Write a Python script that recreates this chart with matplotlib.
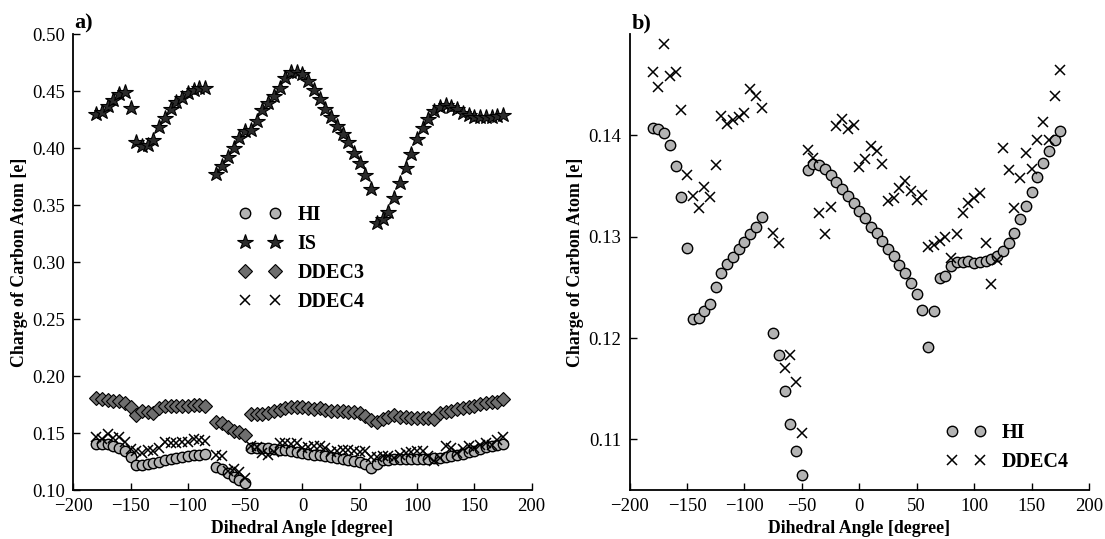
import matplotlib
matplotlib.use("Agg")
import matplotlib.pyplot as plt
from matplotlib.ticker import FormatStrFormatter

plt.rcParams['font.family'] = ['Liberation Serif', 'DejaVu Serif']
plt.rcParams['mathtext.fontset'] = 'stix'

# dihedral angle scan (degree); no point at -80
angle = [-180, -175, -170, -165, -160, -155, -150, -145, -140, -135,
         -130, -125, -120, -115, -110, -105, -100, -95, -90, -85,
         -75, -70, -65, -60, -55, -50,
         -45, -40, -35, -30, -25, -20, -15, -10, -5, 0,
         5, 10, 15, 20, 25, 30, 35, 40, 45, 50,
         55, 60, 65, 70, 75, 80, 85, 90, 95, 100,
         105, 110, 115, 120, 125, 130, 135, 140, 145, 150,
         155, 160, 165, 170, 175]

hi = [0.1407, 0.1406, 0.1402, 0.1390, 0.1370, 0.1339, 0.1289, 0.1219, 0.1220, 0.1227,
      0.1234, 0.1250, 0.1264, 0.1273, 0.1280, 0.1288, 0.1295, 0.1303, 0.1310, 0.1319,
      0.1205, 0.1183, 0.1148, 0.1115, 0.1088, 0.1065,
      0.1366, 0.1372, 0.1371, 0.1367, 0.1361, 0.1354, 0.1347, 0.1340, 0.1333, 0.1325,
      0.1318, 0.1310, 0.1304, 0.1296, 0.1288, 0.1281, 0.1272, 0.1264, 0.1254, 0.1243,
      0.1228, 0.1191, 0.1227, 0.1259, 0.1261, 0.1271, 0.1275, 0.1275, 0.1276, 0.1274,
      0.1275, 0.1276, 0.1278, 0.1281, 0.1286, 0.1294, 0.1304, 0.1317, 0.1330, 0.1344,
      0.1359, 0.1373, 0.1385, 0.1395, 0.1404]

is_q = [0.4298, 0.4313, 0.4366, 0.4421, 0.4474, 0.4491, 0.4354, 0.4053, 0.4018, 0.4026,
        0.4070, 0.4181, 0.4263, 0.4339, 0.4404, 0.4441, 0.4480, 0.4509, 0.4523, 0.4523,
        0.3769, 0.3839, 0.3918, 0.4003, 0.4085, 0.4152,
        0.4158, 0.4240, 0.4333, 0.4398, 0.4459, 0.4523, 0.4611, 0.4670, 0.4670, 0.4646,
        0.4588, 0.4509, 0.4430, 0.4345, 0.4272, 0.4193, 0.4120, 0.4053, 0.3959, 0.3871,
        0.3760, 0.3643, 0.3345, 0.3380, 0.3441, 0.3559, 0.3690, 0.3821, 0.3947, 0.4079,
        0.4172, 0.4257, 0.4327, 0.4357, 0.4374, 0.4357, 0.4339, 0.4310, 0.4292, 0.4275,
        0.4275, 0.4269, 0.4275, 0.4283, 0.4289]

ddec3 = [0.1805, 0.1800, 0.1792, 0.1785, 0.1777, 0.1762, 0.1730, 0.1660, 0.1690, 0.1685,
         0.1672, 0.1722, 0.1740, 0.1738, 0.1735, 0.1738, 0.1740, 0.1748, 0.1745, 0.1735,
         0.1600, 0.1590, 0.1550, 0.1520, 0.1505, 0.1480,
         0.1665, 0.1665, 0.1665, 0.1675, 0.1690, 0.1705, 0.1715, 0.1725, 0.1730, 0.1730,
         0.1722, 0.1712, 0.1715, 0.1705, 0.1695, 0.1690, 0.1696, 0.1688, 0.1688, 0.1673,
         0.1649, 0.1614, 0.1600, 0.1620, 0.1643, 0.1658, 0.1643, 0.1643, 0.1635, 0.1635,
         0.1635, 0.1635, 0.1620, 0.1673, 0.1687, 0.1696, 0.1708, 0.1716, 0.1731, 0.1737,
         0.1751, 0.1760, 0.1769, 0.1775, 0.1795]

ddec4 = [0.1463, 0.1448, 0.1490, 0.1459, 0.1463, 0.1425, 0.1361, 0.1340, 0.1328, 0.1349,
         0.1339, 0.1371, 0.1419, 0.1411, 0.1415, 0.1418, 0.1422, 0.1446, 0.1439, 0.1427,
         0.1304, 0.1294, 0.1170, 0.1183, 0.1157, 0.1106,
         0.1386, 0.1378, 0.1323, 0.1303, 0.1329, 0.1409, 0.1416, 0.1406, 0.1410, 0.1369,
         0.1377, 0.1389, 0.1385, 0.1372, 0.1335, 0.1338, 0.1348, 0.1355, 0.1345, 0.1336,
         0.1341, 0.1290, 0.1292, 0.1296, 0.1300, 0.1279, 0.1303, 0.1323, 0.1333, 0.1338,
         0.1343, 0.1294, 0.1253, 0.1277, 0.1388, 0.1366, 0.1328, 0.1358, 0.1383, 0.1367,
         0.1395, 0.1413, 0.1395, 0.1439, 0.1464]

x_ticks = [-200, -150, -100, -50, 0, 50, 100, 150, 200]
left_yticks = [0.10, 0.15, 0.20, 0.25, 0.30, 0.35, 0.40, 0.45, 0.50]
right_yticks = [0.11, 0.12, 0.13, 0.14]

# marker styles per method
style_hi = dict(ls='none', marker='o', ms=7.5, mfc='#b3b3b3', mec='black', mew=1.0)
style_is = dict(ls='none', marker='*', ms=11.5, mfc='#2b2b2b', mec='black', mew=0.8)
style_d3 = dict(ls='none', marker='D', ms=7, mfc='#6e6e6e', mec='black', mew=0.8)
style_d4 = dict(ls='none', marker='x', ms=7, mec='black', mew=1.1)

label_font = dict(fontsize=12.8, fontweight='bold')
legend_font = dict(size=14.5, weight='bold')


def style_axes(ax, yticks):
    for side in ['top', 'right']:
        ax.spines[side].set_visible(False)
    for side in ['left', 'bottom']:
        ax.spines[side].set_linewidth(1.3)
    ax.tick_params(direction='in', length=5, width=1.0, labelsize=13.5)
    ax.tick_params(axis='x', pad=6)
    ax.tick_params(axis='y', pad=6)
    ax.set_xlim(-200, 200)
    ax.set_xticks(x_ticks)
    ax.set_yticks(yticks)
    ax.yaxis.set_major_formatter(FormatStrFormatter('%.2f'))
    ax.set_xlabel('Dihedral Angle [degree]', labelpad=3, **label_font)
    ax.set_ylabel('Charge of Carbon Atom [e]', labelpad=3, **label_font)


fig = plt.figure(figsize=(11.05, 5.39), dpi=100)
ax1 = fig.add_axes([0.0663, 0.0909, 0.4148, 0.846])
ax2 = fig.add_axes([0.5698, 0.0909, 0.4157, 0.846])

# a) all four charge schemes
ax1.plot(angle, hi, label='HI', **style_hi)
ax1.plot(angle, is_q, label='IS', **style_is)
ax1.plot(angle, ddec3, label='DDEC3', **style_d3)
ax1.plot(angle, ddec4, label='DDEC4', **style_d4)
ax1.set_ylim(0.10, 0.50)
style_axes(ax1, left_yticks)
ax1.legend(loc='upper left', bbox_to_anchor=(0.362, 0.625), frameon=False,
           numpoints=2, prop=legend_font, handlelength=2.1, handletextpad=0.8,
           labelspacing=0.45, borderpad=0, borderaxespad=0)

# b) HI vs DDEC4 close-up
ax2.plot(angle, hi, label='HI', **style_hi)
ax2.plot(angle, ddec4, label='DDEC4', **style_d4)
ax2.set_ylim(0.105, 0.150)
style_axes(ax2, right_yticks)
ax2.legend(loc='upper left', bbox_to_anchor=(0.689, 0.146), frameon=False,
           numpoints=2, prop=legend_font, handlelength=2.0, handletextpad=0.75,
           labelspacing=0.45, borderpad=0, borderaxespad=0)

fig.text(74 / 1105, 1 - 28 / 539, 'a)', fontsize=16, fontweight='bold', va='baseline')
fig.text(632 / 1105, 1 - 28 / 539, 'b)', fontsize=16, fontweight='bold', va='baseline')

fig.savefig('out.png', dpi=100)
